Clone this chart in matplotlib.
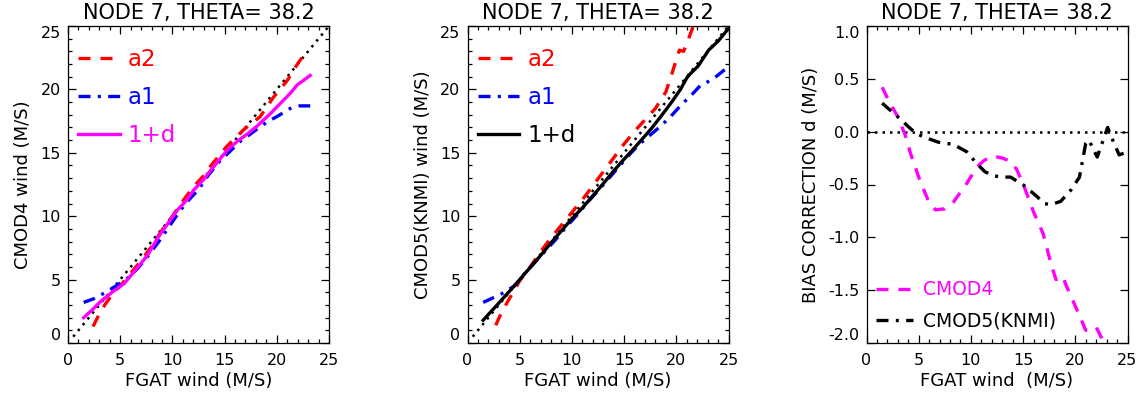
import matplotlib
matplotlib.use("Agg")
import matplotlib.pyplot as plt
from matplotlib.ticker import MultipleLocator

# ---------------- data ----------------
title_text = "NODE 7, THETA= 38.2"

ref_x = [0.5, 25.0]           # 1:1 reference line end points
ref_y = [0.5, 25.0]

# Panel 1 : CMOD4
c4_a2_x = [2.4, 3.0, 3.6, 4.3, 5.2, 6.0, 7.0, 8.0, 9.0, 10.0, 11.0, 12.0, 13.0, 13.6, 15.2, 16.8, 18.4, 19.7, 21.0, 21.9, 22.9]
c4_a2_y = [1.3, 2.3, 3.1, 3.9, 4.7, 5.5, 6.5, 7.6, 8.9, 10.0, 11.2, 12.3, 13.2, 13.9, 15.5, 16.8, 17.85, 19.4, 20.7, 21.9, 23.1]

c4_a1_x = [1.5, 2.5, 3.5, 4.6, 5.7, 6.7, 7.7, 8.7, 9.7, 10.7, 11.7, 12.5, 13.5, 14.6, 15.5, 16.5, 17.5, 18.4, 19.2, 20.0, 21.3, 22.2, 23.2]
c4_a1_y = [3.2, 3.5, 3.95, 4.5, 5.1, 5.9, 6.9, 8.0, 9.2, 10.4, 11.4, 12.1, 13.3, 14.4, 15.1, 15.9, 16.5, 17.05, 17.5, 17.85, 18.5, 18.7, 18.7]

c4_d1_x = [1.5, 2.3, 3.1, 4.3, 5.4, 6.0, 6.7, 7.6, 8.6, 9.8, 10.5, 11.4, 12.05, 13.0, 13.65, 15.25, 16.2, 17.2, 18.1, 18.75, 19.4, 20.7, 21.3, 21.95, 23.2]
c4_d1_y = [2.0, 2.6, 3.26, 4.05, 4.7, 5.3, 6.0, 6.9, 8.3, 9.7, 10.5, 11.3, 12.07, 12.9, 13.6, 15.2, 15.9, 16.5, 17.1, 17.6, 18.1, 19.2, 19.7, 20.35, 21.1]

# Panel 2 : CMOD5(KNMI)
c5_a2_x = [2.7, 3.2, 3.8, 4.3, 5.0, 6.0, 7.0, 8.0, 9.0, 10.0, 11.0, 12.0, 13.0, 14.0, 15.0, 16.0, 17.0, 18.0, 19.0, 19.6, 20.3, 20.7, 21.0, 21.9, 22.3]
c5_a2_y = [1.4, 2.3, 3.2, 3.9, 4.9, 6.0, 7.2, 8.3, 9.3, 10.3, 11.3, 12.4, 13.5, 14.6, 15.7, 16.7, 17.6, 18.5, 19.8, 21.3, 23.1, 23.0, 23.6, 25.6, 26.5]

c5_a1_x = [1.5, 3.2, 4.5, 5.5, 6.5, 7.5, 8.5, 9.5, 10.5, 11.5, 12.5, 13.5, 14.5, 15.5, 16.5, 17.5, 18.5, 19.5, 20.5, 21.5, 22.3, 23.5, 25.0]
c5_a1_y = [3.2, 3.85, 4.5, 5.5, 6.4, 7.3, 8.2, 9.2, 10.1, 11.1, 12.0, 12.95, 13.9, 14.85, 15.7, 16.4, 17.1, 17.9, 18.8, 19.6, 20.3, 20.8, 21.8]

c5_d1_x = [1.5, 3.0, 4.2, 5.0, 6.0, 7.0, 8.0, 9.0, 10.0, 11.0, 12.0, 13.0, 14.0, 15.0, 16.0, 17.0, 17.6, 18.6, 19.6, 20.4, 21.0, 21.3, 22.1, 23.1, 24.0, 25.0]
c5_d1_y = [1.8, 3.15, 4.25, 5.0, 5.95, 6.9, 7.9, 8.85, 9.8, 10.65, 11.6, 12.57, 13.57, 14.5, 15.4, 16.33, 16.9, 17.95, 19.05, 20.0, 20.9, 21.2, 21.85, 23.1, 23.8, 24.8]

# Panel 3 : bias correction d
zero_x = [0.0, 25.0]
zero_y = [0.0, 0.0]

bias4_x = [1.5, 2.2, 3.0, 3.7, 4.2, 5.0, 5.9, 6.6, 7.5, 8.3, 9.6, 10.6, 11.3, 12.1, 13.0, 13.8, 14.4, 15.1, 16.0, 16.9, 17.7, 18.15, 18.8, 19.1, 20.4, 21.0, 22.0, 22.6, 23.0]
bias4_d = [0.42, 0.28, 0.14, -0.03, -0.2, -0.43, -0.65, -0.74, -0.73, -0.67, -0.49, -0.33, -0.27, -0.23, -0.25, -0.28, -0.36, -0.52, -0.76, -0.96, -1.26, -1.40, -1.37, -1.45, -1.74, -1.88, -1.85, -1.97, -2.1]

bias5_x = [1.5, 3.0, 4.2, 4.8, 5.75, 6.9, 8.3, 9.6, 10.55, 11.35, 12.3, 13.1, 13.8, 15.1, 16.4, 17.0, 17.65, 18.6, 19.6, 20.4, 21.0, 21.3, 22.1, 23.1, 23.5, 24.2, 25.0]
bias5_d = [0.27, 0.14, 0.03, -0.02, -0.06, -0.10, -0.12, -0.19, -0.30, -0.38, -0.42, -0.43, -0.43, -0.51, -0.62, -0.68, -0.69, -0.66, -0.55, -0.43, -0.11, -0.08, -0.24, 0.04, -0.06, -0.22, -0.19]

# ---------------- styling ----------------
plt.rcParams['font.family'] = ['DejaVu Sans']
RED, BLUE, MAG, BLK = '#ff0000', '#0000ff', '#ff00ff', '#000000'
DASH = (0, (3.6, 3.0))
DASHDOT = (0, (3.6, 2.2, 0.9, 2.2))
DOT = (0, (1.0, 2.0))
DOT_LW = 1.8
LW = 2.4

fig = plt.figure(figsize=(11.43, 3.98), dpi=100)
W, H = 1143.0, 398.0
bottom = 55.0 / H
height = 317.0 / H
width = 261.0 / W
lefts = [68.0 / W, 467.5 / W, 866.5 / W]
axs = [fig.add_axes([l, bottom, width, height]) for l in lefts]


def style_axes(ax, ylim, ymajor, yminor, yfmt):
    ax.set_xlim(0, 25)
    ax.set_ylim(*ylim)
    ax.xaxis.set_major_locator(MultipleLocator(5))
    ax.xaxis.set_minor_locator(MultipleLocator(1))
    ax.yaxis.set_major_locator(MultipleLocator(ymajor))
    if yminor:
        ax.yaxis.set_minor_locator(MultipleLocator(yminor))
    ax.tick_params(which='both', direction='in', top=True, right=True,
                   labelsize=11.5, width=0.9, colors='black')
    ax.tick_params(which='major', length=6)
    ax.tick_params(axis='x', which='major', pad=7)
    ax.tick_params(axis='y', which='major', pad=5)
    ax.tick_params(which='minor', length=3)
    for s in ax.spines.values():
        s.set_linewidth(0.9)
    ax.yaxis.set_major_formatter(plt.FuncFormatter(yfmt))
    ax.set_title(title_text, fontsize=15, pad=5)


def fix_end_labels(ax):
    ticks = ax.yaxis.get_major_ticks()
    ticks[0].label1.set_va('bottom')
    ticks[-1].label1.set_va('top')


int_fmt = lambda v, p: "%d" % round(v)
flt_fmt = lambda v, p: ("%.1f" % v).replace('\u2212', '-')

LEG_KW = dict(loc='upper left', bbox_to_anchor=(0.04, 0.93), frameon=False,
              fontsize=16.5, handlelength=1.8, handletextpad=0.35,
              labelspacing=0.66, labelcolor='linecolor',
              borderaxespad=0.0, borderpad=0.0)

# Panel 1
ax = axs[0]
ax.plot(ref_x, ref_y, color=BLK, lw=DOT_LW, linestyle=DOT)
l1, = ax.plot(c4_a2_x, c4_a2_y, color=RED, lw=LW, linestyle=DASH, label='a2')
l2, = ax.plot(c4_a1_x, c4_a1_y, color=BLUE, lw=LW, linestyle=DASHDOT, label='a1')
l3, = ax.plot(c4_d1_x, c4_d1_y, color=MAG, lw=LW, label='1+d')
style_axes(ax, (0, 25), 5, 1, int_fmt)
ax.set_yticks([0, 5, 10, 15, 20, 25])
fix_end_labels(ax)
ax.set_xlabel('FGAT wind (M/S)', fontsize=13, labelpad=3)
ax.set_ylabel('CMOD4 wind (M/S)', fontsize=13, labelpad=6)
ax.legend(handles=[l1, l2, l3], **LEG_KW)

# Panel 2
ax = axs[1]
ax.plot(ref_x, ref_y, color=BLK, lw=DOT_LW, linestyle=DOT)
m1, = ax.plot(c5_a2_x, c5_a2_y, color=RED, lw=LW, linestyle=DASH, label='a2')
m2, = ax.plot(c5_a1_x, c5_a1_y, color=BLUE, lw=LW, linestyle=DASHDOT, label='a1')
m3, = ax.plot(c5_d1_x, c5_d1_y, color=BLK, lw=LW, label='1+d')
style_axes(ax, (0, 25), 5, 1, int_fmt)
ax.set_yticks([0, 5, 10, 15, 20, 25])
fix_end_labels(ax)
ax.set_xlabel('FGAT wind (M/S)', fontsize=13, labelpad=3)
ax.set_ylabel('CMOD5(KNMI) wind (M/S)', fontsize=13, labelpad=6)
ax.legend(handles=[m1, m2, m3], **LEG_KW)

# Panel 3
ax = axs[2]
ax.plot(zero_x, zero_y, color=BLK, lw=DOT_LW, linestyle=DOT)
n1, = ax.plot(bias4_x, bias4_d, color=MAG, lw=LW, linestyle=DASH, label='CMOD4')
n2, = ax.plot(bias5_x, bias5_d, color=BLK, lw=LW, linestyle=DASHDOT, label='CMOD5(KNMI)')
style_axes(ax, (-2.0, 1.0), 0.5, None, flt_fmt)
ax.set_yticks([-2.0, -1.5, -1.0, -0.5, 0.0, 0.5, 1.0])
fix_end_labels(ax)
ax.set_xlabel('FGAT wind  (M/S)', fontsize=13, labelpad=3)
ax.set_ylabel('BIAS CORRECTION d (M/S)', fontsize=13, labelpad=6)
ax.legend(handles=[n1, n2], loc='lower left', bbox_to_anchor=(0.035, 0.04),
          frameon=False, fontsize=13.5, handlelength=2.0, handletextpad=0.5,
          labelspacing=0.65, labelcolor='linecolor',
          borderaxespad=0.0, borderpad=0.0)

fig.savefig('out.png', dpi=100)
